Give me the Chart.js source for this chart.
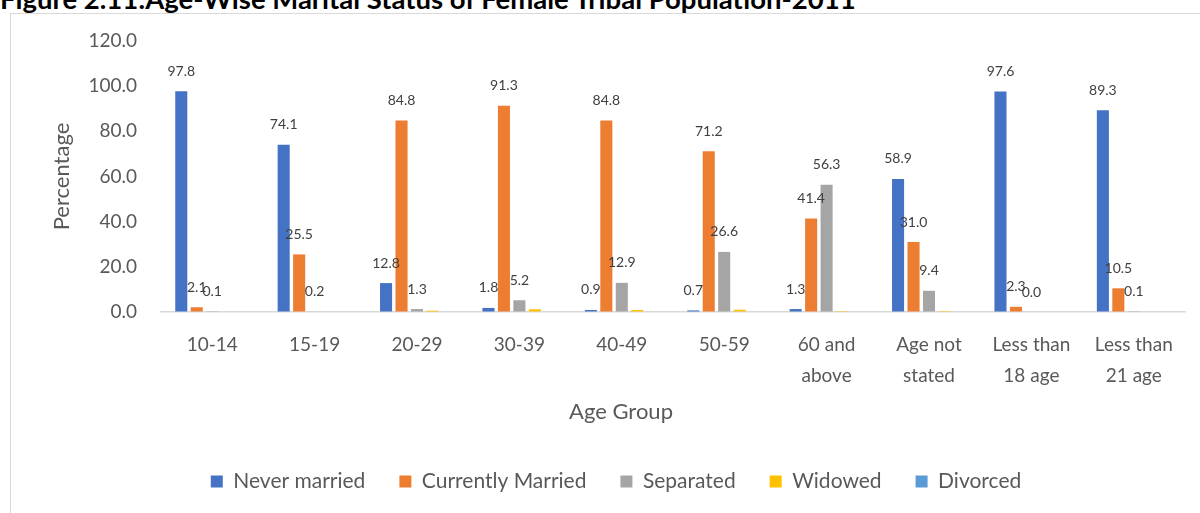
<!DOCTYPE html>
<html>
<head>
<meta charset="utf-8">
<script src="https://cdn.jsdelivr.net/npm/chart.js@4/dist/chart.umd.min.js"></script>
<style>
  html, body { margin: 0; padding: 0; background: #fff; overflow: hidden; }
  body { width: 1200px; height: 513px; position: relative; }
  #fig-title {
    position: absolute; left: 0; top: -15px; white-space: nowrap;
    font: bold 27.5px Lato, sans-serif; line-height: 27.5px; color: #000;
  }
  #frame {
    position: absolute; left: 10px; top: 13px; width: 1212px; height: 520px;
    border: 1px solid #d9d9d9; box-sizing: border-box;
  }
  #wrap { position: absolute; left: 10px; top: 13px; width: 1212px; height: 500px; }
</style>
</head>
<body>
<div id="fig-title">Figure 2.11:Age-Wise Marital Status of Female Tribal Population-2011</div>
<div id="frame"></div>
<div id="wrap"><canvas id="chart1"></canvas></div>
<script>
'use strict';

var AGE_GROUPS = ['10-14', '15-19', '20-29', '30-39', '40-49', '50-59',
	['60 and', 'above'], ['Age not', 'stated'], ['Less than', '18 age'], ['Less than', '21 age']];
var NEVER_MARRIED = [97.8, 74.1, 12.8, 1.8, 0.9, 0.7, 1.3, 58.9, 97.6, 89.3];
var CURRENTLY_MARRIED = [2.1, 25.5, 84.8, 91.3, 84.8, 71.2, 41.4, 31.0, 2.3, 10.5];
var SEPARATED = [0.1, 0.2, 1.3, 5.2, 12.9, 26.6, 56.3, 9.4, 0.0, 0.1];
var WIDOWED = [0, 0, 0.6, 1.2, 0.9, 1.0, 0.4, 0.4, 0, 0];
var DIVORCED = [0, 0, 0, 0, 0, 0, 0, 0, 0, 0];
var Y_TICKS = [0, 20, 40, 60, 80, 100, 120];

var COLORS = ['#4472c4', '#ed7d31', '#a5a5a5', '#ffc000', '#5b9bd5'];
var TEXT_COLOR = '#595959';

// value labels above the first three series only, like the original
var barValueLabels = {
	id: 'barValueLabels',
	afterDatasetsDraw: function(chart) {
		var ctx = chart.ctx;
		ctx.save();
		ctx.font = '14px Lato, sans-serif';
		ctx.fillStyle = '#404040';
		ctx.textAlign = 'center';
		ctx.textBaseline = 'middle';
		[0, 1, 2].forEach(function(i) {
			var meta = chart.getDatasetMeta(i);
			meta.data.forEach(function(bar, j) {
				var v = chart.data.datasets[i].data[j];
				ctx.fillText(v.toFixed(1), bar.x, bar.y - 20);
			});
		});
		ctx.restore();
	}
};

// Excel centres the x axis title on the whole chart, not on the plot area
var xAxisTitle = {
	id: 'xAxisTitle',
	afterDraw: function(chart) {
		var ctx = chart.ctx;
		ctx.save();
		ctx.font = '22px Lato, sans-serif';
		ctx.fillStyle = TEXT_COLOR;
		ctx.textAlign = 'center';
		ctx.textBaseline = 'middle';
		ctx.fillText('Age Group', chart.width / 2 + 5, chart.scales.x.bottom - 25);
		ctx.restore();
	}
};

var ctx = document.getElementById('chart1').getContext('2d');
var maritalChart = new Chart(ctx, {
	type: 'bar',
	data: {
		labels: AGE_GROUPS,
		datasets: [
			{ label: 'Never married', data: NEVER_MARRIED, backgroundColor: COLORS[0] },
			{ label: 'Currently Married', data: CURRENTLY_MARRIED, backgroundColor: COLORS[1] },
			{ label: 'Separated', data: SEPARATED, backgroundColor: COLORS[2] },
			{ label: 'Widowed', data: WIDOWED, backgroundColor: COLORS[3] },
			{ label: 'Divorced', data: DIVORCED, backgroundColor: COLORS[4] }
		]
	},
	options: {
		responsive: true,
		maintainAspectRatio: false,
		animation: false,
		categoryPercentage: 0.755,
		barPercentage: 0.78,
		layout: {
			padding: { top: 28, right: 37, bottom: 11, left: 37 }
		},
		scales: {
			x: {
				grid: { display: false, drawTicks: false },
				border: { display: true, color: '#d9d9d9', width: 1.5 },
				ticks: {
					color: TEXT_COLOR,
					font: { family: 'Lato, sans-serif', size: 19, lineHeight: 1.6 },
					padding: 18,
					maxRotation: 0,
					autoSkip: false
				},
				title: { display: false },
				afterFit: function(scale) { scale.height = 125; }
			},
			y: {
				min: 0,
				max: 120,
				afterBuildTicks: function(scale) {
					scale.ticks = Y_TICKS.map(function(v) { return { value: v }; });
				},
				// invisible tick marks give the label gap without padding the top of the plot
				grid: {
					display: true,
					drawOnChartArea: false,
					drawTicks: true,
					tickLength: 24,
					color: 'rgba(0,0,0,0)'
				},
				border: { display: false },
				ticks: {
					color: TEXT_COLOR,
					font: { family: 'Lato, sans-serif', size: 19 },
					padding: 0,
					callback: function(v) { return Number(v).toFixed(1); }
				},
				title: {
					display: true,
					text: 'Percentage',
					color: TEXT_COLOR,
					font: { family: 'Lato, sans-serif', size: 22 },
					padding: { top: 2, bottom: 0 }
				},
				afterFit: function(scale) { scale.width = 114; }
			}
		},
		plugins: {
			legend: {
				display: true,
				position: 'bottom',
				labels: {
					color: TEXT_COLOR,
					font: { family: 'Lato, sans-serif', size: 21 },
					boxWidth: 12,
					boxHeight: 12,
					padding: 34
				}
			},
			tooltip: { enabled: false }
		}
	},
	plugins: [barValueLabels, xAxisTitle]
});
</script>
</body>
</html>
